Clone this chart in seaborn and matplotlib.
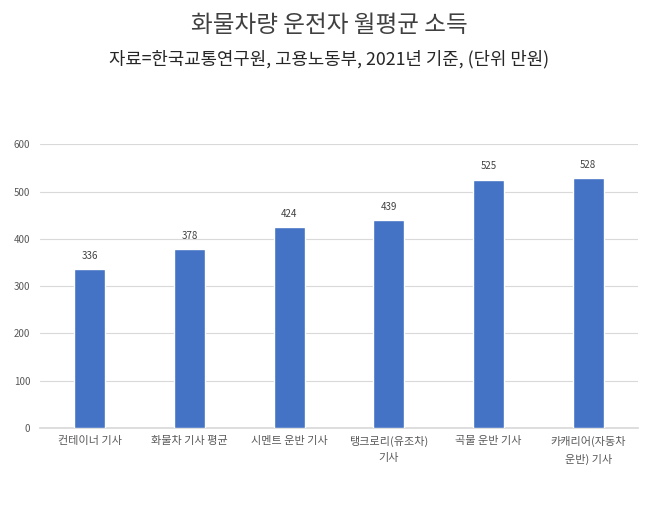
import matplotlib
matplotlib.use('Agg')
import matplotlib.pyplot as plt
import seaborn as sns
import pandas as pd

# 데이터
categories = ['컨테이너 기사', '화물차 기사 평균', '시멘트 운반 기사',
              '탱크로리(유조차)\n기사', '곡물 운반 기사', '카캐리어(자동차\n운반) 기사']
incomes = [336, 378, 424, 439, 525, 528]
y_ticks = [0, 100, 200, 300, 400, 500, 600]

title = '화물차량 운전자 월평균 소득'
subtitle = '자료=한국교통연구원, 고용노동부, 2021년 기준, (단위 만원)'

sns.set_theme(style='white')
plt.rcParams['font.family'] = ['Noto Sans CJK KR', 'DejaVu Sans']

df = pd.DataFrame({'category': categories, 'income': incomes})

fig = plt.figure(figsize=(6.58, 5.21), dpi=100)
ax = fig.add_axes([0.0608, 0.179, 0.9088, 0.544])

sns.barplot(data=df, x='category', y='income', color='#4472C4',
            width=0.31, saturation=1, ax=ax, zorder=3)

ax.set_ylim(0, 600)
ax.set_xlim(-0.5, len(categories) - 0.5)
ax.set_yticks(y_ticks)
ax.yaxis.grid(True, color='#D9D9D9', linewidth=0.8, zorder=0)
ax.set_axisbelow(True)
for side in ['top', 'right', 'left']:
    ax.spines[side].set_visible(False)
ax.spines['bottom'].set_color('#D9D9D9')
ax.tick_params(axis='y', length=0, labelsize=7, labelcolor='#595959', pad=7)
ax.tick_params(axis='x', length=0, labelsize=8, labelcolor='#595959', pad=6)
for lbl in ax.get_xticklabels():
    lbl.set_linespacing(1.7)
ax.set_xlabel('')
ax.set_ylabel('')

for container in ax.containers:
    ax.bar_label(container, fmt='%d', padding=6, fontsize=7, color='#404040')

fig.text(0.5, 0.952, title, ha='center', va='center', fontsize=17, color='#404040')
fig.text(0.5, 0.887, subtitle, ha='center', va='center', fontsize=12.8, color='#262626')

fig.savefig('out.png', dpi=100, facecolor='white')
